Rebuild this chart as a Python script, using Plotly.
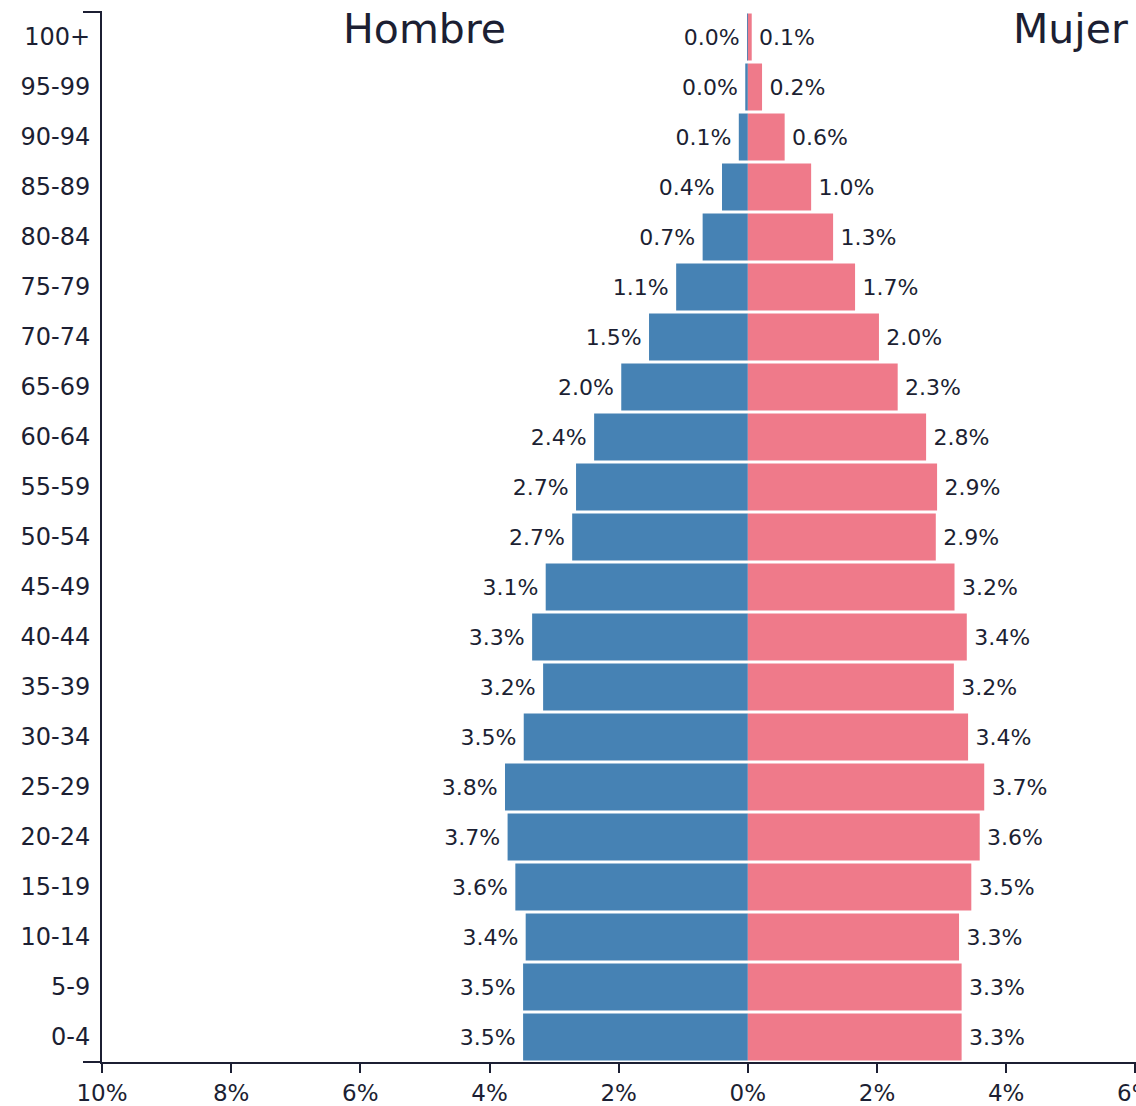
import plotly.graph_objects as go

age_groups = ["0-4", "5-9", "10-14", "15-19", "20-24", "25-29", "30-34", "35-39",
              "40-44", "45-49", "50-54", "55-59", "60-64", "65-69", "70-74", "75-79",
              "80-84", "85-89", "90-94", "95-99", "100+"]
male_pct = [3.48, 3.48, 3.44, 3.60, 3.72, 3.76, 3.47, 3.17, 3.34, 3.13, 2.72,
            2.66, 2.38, 1.96, 1.53, 1.11, 0.70, 0.40, 0.14, 0.04, 0.01]
female_pct = [3.31, 3.31, 3.27, 3.46, 3.59, 3.66, 3.41, 3.19, 3.39, 3.20, 2.91,
              2.93, 2.76, 2.32, 2.03, 1.66, 1.32, 0.98, 0.57, 0.22, 0.06]
x_tickvals = [-10, -8, -6, -4, -2, 0, 2, 4, 6]
x_ticktext = ["10%", "8%", "6%", "4%", "2%", "0%", "2%", "4%", "6%"]
series_names = ["Hombre", "Mujer"]

INK = "#1c1f33"
FONT = "DejaVu Sans"
BLUE = "#4682b4"
PINK = "#ef7a8a"
THIN = "\u2009"

fig = go.Figure()
fig.add_trace(go.Bar(
    y=age_groups, x=[-v for v in male_pct], orientation="h",
    marker=dict(color=BLUE, line=dict(width=0)),
    text=[f"{v:.1f}%{THIN}" for v in male_pct], textposition="outside",
    textfont=dict(family=FONT, size=22, color=INK),
    cliponaxis=False, name=series_names[0], showlegend=False,
))
fig.add_trace(go.Bar(
    y=age_groups, x=female_pct, orientation="h",
    marker=dict(color=PINK, line=dict(width=0)),
    text=[f"{THIN}{v:.1f}%" for v in female_pct], textposition="outside",
    textfont=dict(family=FONT, size=22, color=INK),
    cliponaxis=False, name=series_names[1], showlegend=False,
))

fig.update_layout(
    width=1136, height=1106,
    margin=dict(l=102, r=0, t=12, b=44, autoexpand=False),
    barmode="relative", bargap=0.06,
    plot_bgcolor="white", paper_bgcolor="white",
    font=dict(family=FONT, color=INK),
    xaxis=dict(
        range=[-10, 6.01], tickvals=x_tickvals, ticktext=x_ticktext,
        automargin=False,
        showgrid=False, zeroline=False, showline=True, linecolor=INK, linewidth=2,
        ticks="outside", ticklen=9, tickwidth=2, tickcolor=INK,
        ticklabeloverflow="allow",
        tickfont=dict(family=FONT, size=23, color=INK),
    ),
    yaxis=dict(
        categoryorder="array", categoryarray=age_groups, range=[-0.5, 20.5],
        automargin=False,
        showgrid=False, zeroline=False, showline=True, linecolor=INK, linewidth=2,
        ticks="", ticklabelstandoff=5,
        tickfont=dict(family=FONT, size=24, color=INK),
    ),
    annotations=[
        dict(x=-5, y=0.984, xref="x", yref="paper", text=series_names[0],
             showarrow=False, xanchor="center", yanchor="middle",
             font=dict(family=FONT, size=41, color=INK)),
        dict(x=5, y=0.984, xref="x", yref="paper", text=series_names[1],
             showarrow=False, xanchor="center", yanchor="middle",
             font=dict(family=FONT, size=41, color=INK)),
    ],
    shapes=[
        dict(type="line", xref="paper", yref="paper", x0=-19/1034, x1=0, y0=1, y1=1,
             line=dict(color=INK, width=2)),
        dict(type="line", xref="paper", yref="paper", x0=-19/1034, x1=0, y0=0, y1=0,
             line=dict(color=INK, width=2)),
    ],
)

fig.write_html(
    "out.html",
    config={"displayModeBar": False},
    post_script="document.body.style.margin='0';document.body.style.overflow='hidden';",
)
